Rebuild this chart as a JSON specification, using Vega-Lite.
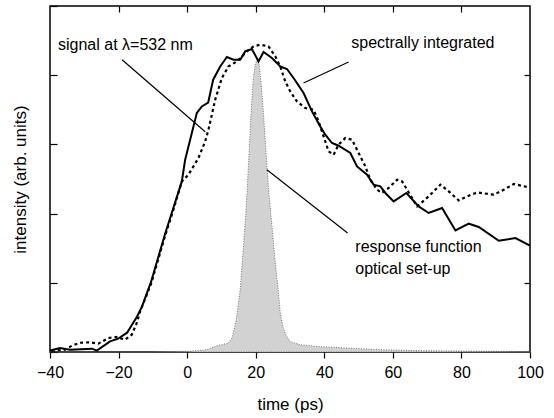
{
  "$schema": "https://vega.github.io/schema/vega-lite/v6.json",
  "autosize": "none",
  "width": 480,
  "height": 346,
  "padding": {"left": 50, "top": 6, "right": 24, "bottom": 66},
  "background": "white",
  "config": {
    "view": {"stroke": "black", "strokeWidth": 1.5},
    "font": "Liberation Sans",
    "axis": {"grid": false, "domain": false, "tickColor": "black", "tickWidth": 1.2, "labelColor": "black", "titleColor": "black", "titleFontWeight": "normal", "labelFont": "Liberation Sans", "titleFont": "Liberation Sans", "labelFlush": false}
  },
  "datasets": {
    "resp": [
      {"t": -40, "v": 0}, {"t": -10.8, "v": 0}, {"t": 0.88, "v": 0.012}, {"t": 5.75, "v": 0.033},
      {"t": 8.67, "v": 0.091}, {"t": 11.97, "v": 0.127}, {"t": 13.14, "v": 0.207}, {"t": 14.31, "v": 0.467},
      {"t": 15.47, "v": 0.9}, {"t": 16.35, "v": 1.478}, {"t": 16.93, "v": 1.868}, {"t": 17.52, "v": 2.345},
      {"t": 18.1, "v": 2.923}, {"t": 18.69, "v": 3.501}, {"t": 19.27, "v": 3.935}, {"t": 19.85, "v": 4.152},
      {"t": 20.44, "v": 4.224}, {"t": 21.02, "v": 4.152}, {"t": 21.61, "v": 3.863}, {"t": 22.19, "v": 3.501},
      {"t": 22.77, "v": 3.068}, {"t": 23.65, "v": 2.418}, {"t": 24.38, "v": 2.013}, {"t": 25.11, "v": 1.623},
      {"t": 25.69, "v": 1.29}, {"t": 26.57, "v": 0.9}, {"t": 27.15, "v": 0.568}, {"t": 28.03, "v": 0.351},
      {"t": 28.91, "v": 0.236}, {"t": 30.07, "v": 0.149}, {"t": 32.99, "v": 0.105}, {"t": 38.83, "v": 0.077},
      {"t": 44.67, "v": 0.062}, {"t": 56.35, "v": 0.033}, {"t": 68.03, "v": 0.019}, {"t": 100, "v": 0.005}
    ],
    "solid": [
      {"t": -40, "v": 0.023}, {"t": -37.08, "v": 0.058}, {"t": -34.16, "v": 0.033}, {"t": -27.74, "v": 0.048},
      {"t": -26.36, "v": 0.019}, {"t": -22.48, "v": 0.153}, {"t": -20.15, "v": 0.192}, {"t": -17.52, "v": 0.279},
      {"t": -14.6, "v": 0.514}, {"t": -13.14, "v": 0.659}, {"t": -10.51, "v": 1.016}, {"t": -6.42, "v": 1.71},
      {"t": -1.55, "v": 2.465}, {"t": -0.58, "v": 2.779}, {"t": 1.84, "v": 3.26}, {"t": 2.83, "v": 3.454},
      {"t": 4.29, "v": 3.549}, {"t": 6.13, "v": 3.603}, {"t": 7.59, "v": 3.935}, {"t": 9.64, "v": 4.127},
      {"t": 11.59, "v": 4.263}, {"t": 13.52, "v": 4.224}, {"t": 15.47, "v": 4.224}, {"t": 16.93, "v": 4.344},
      {"t": 18.89, "v": 4.379}, {"t": 20.82, "v": 4.199}, {"t": 22.28, "v": 4.335}, {"t": 24.73, "v": 4.249},
      {"t": 27.15, "v": 4.127}, {"t": 29.11, "v": 4.09}, {"t": 31.04, "v": 3.96}, {"t": 33.96, "v": 3.743},
      {"t": 36.41, "v": 3.477}, {"t": 38.83, "v": 3.26}, {"t": 40.29, "v": 3.14}, {"t": 42.25, "v": 3.02},
      {"t": 44.18, "v": 2.981}, {"t": 47.59, "v": 2.876}, {"t": 49.55, "v": 2.682}, {"t": 52.47, "v": 2.562},
      {"t": 54.39, "v": 2.418}, {"t": 56.35, "v": 2.393}, {"t": 57.81, "v": 2.298}, {"t": 60.23, "v": 2.176},
      {"t": 63.94, "v": 2.298}, {"t": 67.53, "v": 2.104}, {"t": 70.45, "v": 2.009}, {"t": 74.36, "v": 2.081},
      {"t": 78.25, "v": 1.757}, {"t": 82.13, "v": 1.854}, {"t": 85.05, "v": 1.806}, {"t": 90.89, "v": 1.608},
      {"t": 95.77, "v": 1.647}, {"t": 100, "v": 1.536}
    ],
    "dotted": [
      {"t": -39.5, "v": 0.019}, {"t": -35.62, "v": 0.033}, {"t": -33.58, "v": 0.091}, {"t": -31.24, "v": 0.134},
      {"t": -28.32, "v": 0.139}, {"t": -25.9, "v": 0.12}, {"t": -22.98, "v": 0.202}, {"t": -20.53, "v": 0.217},
      {"t": -18.1, "v": 0.178}, {"t": -16.15, "v": 0.25}, {"t": -14.69, "v": 0.419}, {"t": -13.72, "v": 0.587},
      {"t": -10.51, "v": 0.987}, {"t": -6.42, "v": 1.682}, {"t": -4.0, "v": 2.056}, {"t": -1.55, "v": 2.465},
      {"t": 0.38, "v": 2.562}, {"t": 3.3, "v": 2.803}, {"t": 5.26, "v": 3.043}, {"t": 6.22, "v": 3.212},
      {"t": 7.21, "v": 3.429}, {"t": 8.18, "v": 3.646}, {"t": 10.13, "v": 3.96}, {"t": 12.06, "v": 4.127},
      {"t": 14.51, "v": 4.199}, {"t": 17.43, "v": 4.344}, {"t": 19.36, "v": 4.416}, {"t": 21.31, "v": 4.441},
      {"t": 23.74, "v": 4.416}, {"t": 25.69, "v": 4.272}, {"t": 27.15, "v": 4.127}, {"t": 28.61, "v": 3.91},
      {"t": 30.07, "v": 3.766}, {"t": 32.03, "v": 3.621}, {"t": 34.45, "v": 3.526}, {"t": 36.88, "v": 3.501},
      {"t": 38.34, "v": 3.332}, {"t": 39.8, "v": 3.116}, {"t": 41.26, "v": 2.899}, {"t": 42.72, "v": 2.851},
      {"t": 44.18, "v": 2.996}, {"t": 46.13, "v": 3.092}, {"t": 48.09, "v": 3.068}, {"t": 50.01, "v": 2.876},
      {"t": 51.97, "v": 2.682}, {"t": 53.43, "v": 2.49}, {"t": 55.39, "v": 2.345}, {"t": 56.85, "v": 2.298},
      {"t": 58.77, "v": 2.37}, {"t": 61.23, "v": 2.49}, {"t": 62.69, "v": 2.465}, {"t": 64.15, "v": 2.345},
      {"t": 67.07, "v": 2.104}, {"t": 70.45, "v": 2.249}, {"t": 73.87, "v": 2.418}, {"t": 76.29, "v": 2.321},
      {"t": 79.21, "v": 2.191}, {"t": 81.66, "v": 2.249}, {"t": 84.58, "v": 2.306}, {"t": 89.43, "v": 2.273},
      {"t": 92.35, "v": 2.345}, {"t": 95.27, "v": 2.428}, {"t": 99.65, "v": 2.379}
    ],
    "leaders": [
      {"t": -18.98, "v": 4.224, "t2": 5.26, "v2": 3.183},
      {"t": 47.09, "v": 4.191, "t2": 33.96, "v2": 3.887},
      {"t": 23.26, "v": 2.634, "t2": 46.8, "v2": 1.72}
    ],
    "labels": [
      {"t": -37.66, "v": 4.44, "label": "signal at λ=532 nm"},
      {"t": 47.88, "v": 4.465, "label": "spectrally integrated"},
      {"t": 49.05, "v": 1.517, "label": "response function"},
      {"t": 49.05, "v": 1.199, "label": "optical set-up"}
    ]
  },
  "layer": [
    {
      "data": {"name": "resp"},
      "mark": {"type": "area", "fill": "#d2d2d2", "stroke": "#555555", "strokeWidth": 0.8, "strokeDash": [1, 1.5], "interpolate": "linear"},
      "encoding": {
        "x": {"field": "t", "type": "quantitative", "scale": {"domain": [-40, 100], "nice": false, "zero": false},
          "axis": {"orient": "bottom", "values": [-40, -20, 0, 20, 40, 60, 80, 100], "tickSize": 6, "labelFontSize": 16, "labelPadding": 6, "title": "time (ps)", "titleFontSize": 17, "titlePadding": 16}},
        "y": {"field": "v", "type": "quantitative", "scale": {"domain": [0, 5], "nice": false},
          "axis": {"orient": "left", "values": [0, 1, 2, 3, 4, 5], "tickSize": -7, "labels": false, "title": "intensity (arb. units)", "titleFontSize": 17, "titlePadding": 20}}
      }
    },
    {
      "data": {"name": "dotted"},
      "mark": {"type": "line", "color": "black", "strokeWidth": 2.2, "strokeDash": [3, 3]},
      "encoding": {
        "x": {"field": "t", "type": "quantitative", "axis": null},
        "y": {"field": "v", "type": "quantitative", "axis": null}
      }
    },
    {
      "data": {"name": "solid"},
      "mark": {"type": "line", "color": "black", "strokeWidth": 2},
      "encoding": {
        "x": {"field": "t", "type": "quantitative",
          "axis": {"orient": "top", "values": [-20, 0, 20, 40, 60, 80], "tickSize": -6, "labels": false, "title": null}},
        "y": {"field": "v", "type": "quantitative",
          "axis": {"orient": "right", "values": [1, 2, 3, 4], "tickSize": -6, "labels": false, "title": null}}
      }
    },
    {
      "data": {"name": "leaders"},
      "mark": {"type": "rule", "color": "black", "strokeWidth": 1.2},
      "encoding": {
        "x": {"field": "t", "type": "quantitative", "axis": null},
        "y": {"field": "v", "type": "quantitative", "axis": null},
        "x2": {"field": "t2"},
        "y2": {"field": "v2"}
      }
    },
    {
      "data": {"name": "labels"},
      "mark": {"type": "text", "align": "left", "baseline": "middle", "fontSize": 16, "font": "Liberation Sans", "color": "black"},
      "encoding": {
        "x": {"field": "t", "type": "quantitative", "axis": null},
        "y": {"field": "v", "type": "quantitative", "axis": null},
        "text": {"field": "label"}
      }
    }
  ],
  "resolve": {"axis": {"x": "independent", "y": "independent"}}
}
